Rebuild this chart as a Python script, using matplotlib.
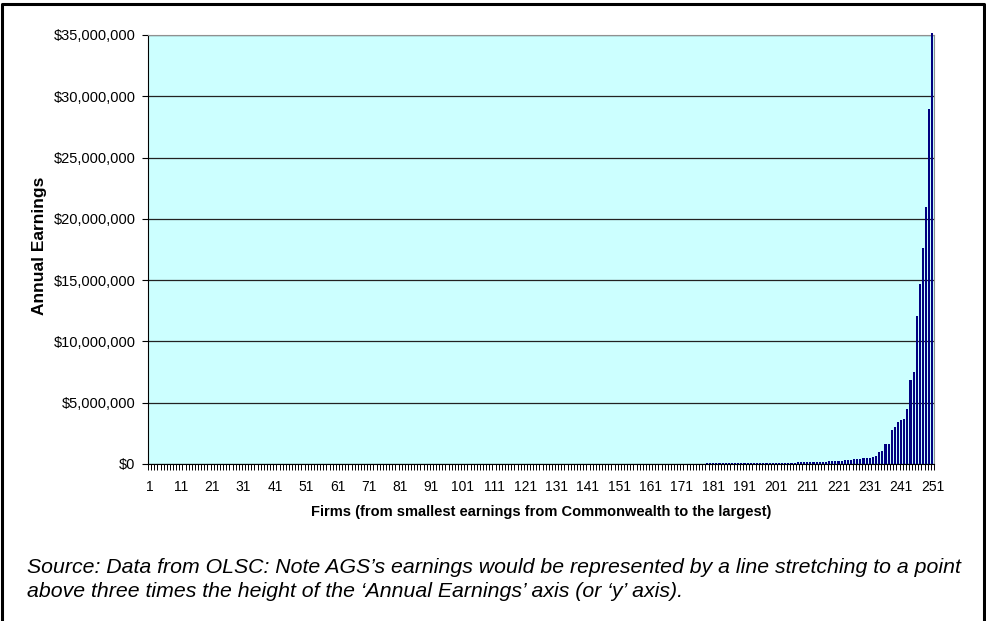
import matplotlib.pyplot as plt
import matplotlib.ticker as mticker
from matplotlib.lines import Line2D
import numpy as np

plt.rcParams['font.family'] = ['Liberation Sans', 'DejaVu Sans']

# annual earnings per firm, in thousands of dollars, smallest to largest
earnings_k = [
    1, 1, 1, 1, 1, 1, 1, 1, 1, 1,
    1, 1, 1, 2, 2, 2, 2, 2, 2, 2,
    2, 2, 2, 2, 2, 3, 3, 3, 3, 3,
    3, 3, 3, 3, 3, 3, 4, 4, 4, 4,
    4, 4, 4, 4, 4, 4, 5, 5, 5, 5,
    5, 5, 5, 5, 5, 6, 6, 6, 6, 6,
    6, 6, 6, 6, 7, 7, 7, 7, 7, 7,
    7, 7, 8, 8, 8, 8, 8, 8, 8, 8,
    9, 9, 9, 9, 9, 9, 9, 10, 10, 10,
    10, 10, 10, 10, 11, 11, 11, 11, 11, 11,
    12, 12, 12, 12, 12, 12, 13, 13, 13, 13,
    13, 14, 14, 14, 14, 14, 15, 15, 15, 15,
    15, 16, 16, 16, 16, 17, 17, 17, 17, 18,
    18, 18, 18, 19, 19, 19, 19, 20, 20, 20,
    21, 21, 21, 22, 22, 22, 23, 23, 23, 24,
    24, 24, 25, 25, 26, 26, 26, 27, 27, 28,
    28, 29, 29, 30, 30, 31, 31, 32, 33, 33,
    34, 35, 35, 36, 37, 38, 39, 40, 41, 42,
    70, 72, 74, 76, 78, 80, 82, 84, 86, 88,
    90, 92, 94, 96, 98, 100, 102, 104, 106, 108,
    110, 112, 114, 116, 118, 120, 122, 125, 128, 132,
    136, 140, 160, 170, 180, 190, 200, 210, 220, 240,
    250, 270, 290, 320, 340, 370, 400, 420, 450, 470,
    530, 600, 650, 1000, 1100, 1600, 1600, 2800, 3000, 3450,
    3600, 3700, 4500, 6850, 7500, 12100, 14700, 17600, 21000, 29000,
    35200,
]
firms = list(range(1, len(earnings_k) + 1))
tick_firms = list(range(1, 252, 10))
y_ticks = [0, 5e6, 10e6, 15e6, 20e6, 25e6, 30e6, 35e6]

values = np.array(earnings_k) * 1000.0

W, H = 986, 621
fig = plt.figure(figsize=(W / 100, H / 100), dpi=100)
ax = fig.add_axes([148 / W, 1 - 464 / H, 786 / W, 429 / H])
ax.set_facecolor('#CCFFFF')

bars = ax.bar(firms, values, width=0.68, color='#000080', linewidth=0, zorder=3)
for b in bars:
    b.set_clip_on(False)

ax.set_xlim(0.5, len(firms) + 0.5)
ax.set_ylim(0, 35e6)
ax.set_yticks(y_ticks)
ax.yaxis.set_major_formatter(mticker.FuncFormatter(lambda v, p: '${:,.0f}'.format(v)))
ax.grid(axis='y', color='#222222', linewidth=0.9, zorder=1)

ax.set_xticks(tick_firms)
ax.set_xticks(np.arange(0.5, len(firms) + 1, 1.0), minor=True)
ax.tick_params(axis='x', which='major', length=0, pad=11.5, labelsize=10)
ax.tick_params(axis='x', which='minor', length=4, width=0.7, direction='out')
ax.tick_params(axis='y', length=4, width=0.8, labelsize=10.5, pad=5)

for side in ['top', 'right']:
    ax.spines[side].set_color('#909090')
ax.spines['left'].set_color('black')
ax.spines['bottom'].set_color('black')

ax.set_xlabel('Firms (from smallest earnings from Commonwealth to the largest)',
              fontsize=10.5, fontweight='bold', va='center')
ax.xaxis.set_label_coords(0.5, (464 - 512) / 429)
ax.set_ylabel('Annual Earnings', fontsize=12.5, fontweight='bold', va='center')
ax.yaxis.set_label_coords(-(148 - 40) / 786, 0.508)

fig.text(27 / W, 1 - 573 / H,
         'Source: Data from OLSC: Note AGS\u2019s earnings would be represented by a line stretching to a point',
         fontsize=15.3, style='italic', va='baseline')
fig.text(27 / W, 1 - 597 / H,
         'above three times the height of the \u2018Annual Earnings\u2019 axis (or \u2018y\u2019 axis).',
         fontsize=15.3, style='italic', va='baseline')

# frame around the chart, open at the bottom
frame_x = [2 / W, 2 / W, 983.5 / W, 983.5 / W]
frame_y = [-0.01, 1 - 4 / H, 1 - 4 / H, -0.01]
fig.add_artist(Line2D(frame_x, frame_y, transform=fig.transFigure, color='black', linewidth=2.2))

fig.savefig('out.png', dpi=100)
